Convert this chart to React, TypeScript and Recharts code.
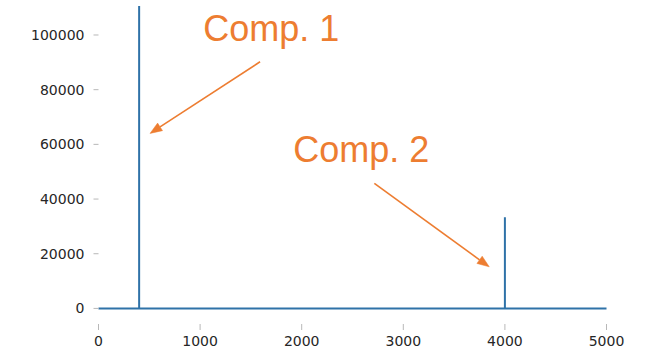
import { LineChart, Line, XAxis, YAxis, ReferenceLine, ReferenceDot } from 'recharts';

// spectrum: flat baseline with two spikes
const freqs = [0, 400, 400, 400, 4000, 4000, 4000, 5000];
const amplitudes = [0, 0, 110600, 0, 0, 33300, 0, 0];

const xTicks = [0, 1000, 2000, 3000, 4000, 5000];
const yTicks = [0, 20000, 40000, 60000, 80000, 100000];

// annotations (data coords)
const labels = ['Comp. 1', 'Comp. 2'];
const labelX = [1031, 1917];
const labelY = [97900, 53400];
const arrowFromX = [1590, 2715];
const arrowFromY = [90200, 45700];
const arrowToX = [507, 3846];
const arrowToY = [64000, 15200];

const LINE_COLOR = '#2f72a8';
const ANNOT_COLOR = '#ed7d31';

const data = freqs.map((x, i) => ({ x, y: amplitudes[i] }));

const tickStyle = { fontFamily: 'DejaVu Sans', fontSize: 14, fill: '#262626' };

const Arrow = (props: any) => {
  const { x1, y1, x2, y2 } = props;
  const ang = Math.atan2(y2 - y1, x2 - x1);
  const len = 12;
  const half = 4.5;
  const bx = x2 - len * Math.cos(ang);
  const by = y2 - len * Math.sin(ang);
  const px = -Math.sin(ang) * half;
  const py = Math.cos(ang) * half;
  return (
    <g>
      <line x1={x1} y1={y1} x2={bx} y2={by} stroke={ANNOT_COLOR} strokeWidth={1.6} />
      <polygon
        points={`${x2},${y2} ${bx + px},${by + py} ${bx - px},${by - py}`}
        fill={ANNOT_COLOR}
        stroke={ANNOT_COLOR}
        strokeWidth={0.5}
      />
    </g>
  );
};

const makeLabel = (text: string) => (props: any) => (
  <text
    x={props.cx}
    y={props.cy}
    fill={ANNOT_COLOR}
    fontFamily="Liberation Sans"
    fontSize={36}
    textAnchor="start"
  >
    {text}
  </text>
);

export default function App() {
  return (
    <div style={{ position: 'absolute', left: 0, top: 0, width: 646, height: 352, background: '#fff' }}>
      <LineChart width={646} height={352} data={data} margin={{ top: 0, right: 39.5, bottom: 0, left: 0 }}>
        <XAxis
          type="number"
          dataKey="x"
          domain={[0, 5000]}
          ticks={xTicks}
          axisLine={false}
          tickLine={{ stroke: '#b8b8b8' }}
          tickSize={6}
          tickMargin={6}
          tick={tickStyle}
          height={28}
          interval={0}
        />
        <YAxis
          type="number"
          domain={[-5700, 112800]}
          ticks={yTicks}
          allowDataOverflow
          axisLine={false}
          tickLine={{ stroke: '#b8b8b8' }}
          tickSize={5}
          tickMargin={9}
          tick={tickStyle}
          width={98.5}
          interval={0}
        />
        <Line
          type="linear"
          dataKey="y"
          stroke={LINE_COLOR}
          strokeWidth={2}
          dot={false}
          isAnimationActive={false}
        />
        {labels.map((t, i) => (
          <ReferenceLine
            key={`arrow-${i}`}
            segment={[
              { x: arrowFromX[i], y: arrowFromY[i] },
              { x: arrowToX[i], y: arrowToY[i] },
            ]}
            ifOverflow="visible"
            shape={Arrow}
          />
        ))}
        {labels.map((t, i) => (
          <ReferenceDot
            key={`label-${i}`}
            x={labelX[i]}
            y={labelY[i]}
            r={0}
            ifOverflow="visible"
            shape={makeLabel(t)}
          />
        ))}
      </LineChart>
    </div>
  );
}
